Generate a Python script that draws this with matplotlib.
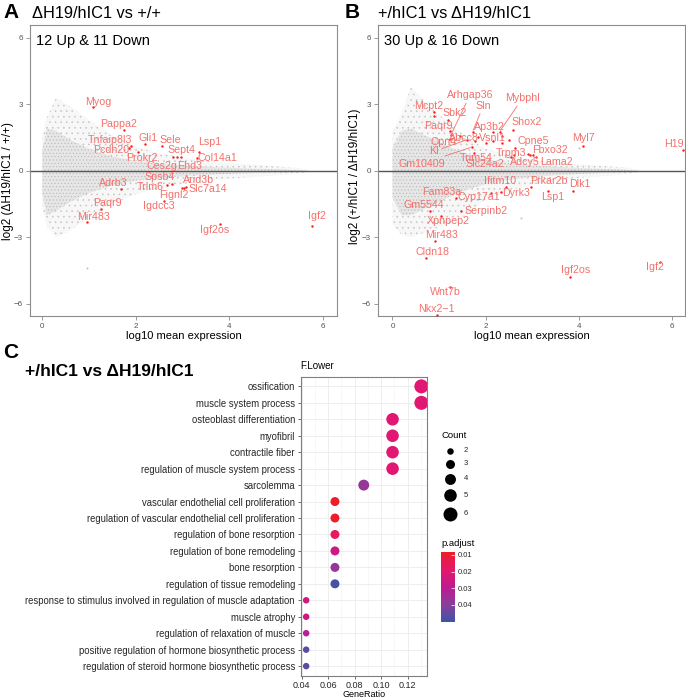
import matplotlib
matplotlib.use("Agg")
import matplotlib.pyplot as plt
import numpy as np
from matplotlib.colors import LinearSegmentedColormap, Normalize
from matplotlib.cm import ScalarMappable

plt.rcParams['font.family'] = ['Liberation Sans', 'DejaVu Sans']
plt.rcParams['hatch.linewidth'] = 0.4

# ---------------- panel A data (ΔH19/hIC1 vs +/+) ----------------
A_env_x = [0.0, 0.1, 0.3, 0.6, 1.0, 1.5, 2.0, 2.5, 3.0, 3.5, 4.0, 4.5, 5.0, 5.5, 5.7]
A_env_hi = [1.6, 2.4, 3.3, 2.9, 2.3, 1.6, 1.1, 0.8, 0.6, 0.45, 0.35, 0.28, 0.2, 0.12, 0.05]
A_env_lo = [-1.7, -2.5, -3.0, -2.7, -2.1, -1.5, -1.05, -0.8, -0.6, -0.45, -0.35, -0.28, -0.2, -0.12, -0.05]
A_core_hi = [0.9, 1.9, 1.8, 1.4, 1.0, 0.65, 0.45, 0.32, 0.24, 0.18, 0.14, 0.1, 0.07, 0.03, 0.0]
A_core_lo = [-1.0, -2.0, -1.8, -1.4, -1.0, -0.65, -0.45, -0.32, -0.24, -0.18, -0.14, -0.1, -0.07, -0.03, 0.0]
A_gray_x = [0.97]
A_gray_y = [-4.4]

A_genes = ['Myog', 'Pappa2', 'Tnfaip8l3', 'Pcdh20', 'Gli1', 'Sele', 'Lsp1', 'Sept4',
           'Col14a1', 'Prokr2', 'Ces2g', 'Ehd3', 'Spsb4', 'Trim6', 'Adrb3', 'Arid3b',
           'Slc7a14', 'Fignl2', 'Igdcc3', 'Paqr9', 'Mir483', 'Igf2os', 'Igf2']
A_x = [1.08, 1.75, 1.90, 1.86, 2.20, 2.56, 3.36, 2.88, 3.31, 2.06, 2.81, 2.97,
       2.77, 2.67, 1.68, 3.04, 3.08, 3.00, 2.61, 1.27, 0.96, 3.81, 5.77]
A_y = [2.87, 1.82, 1.13, 1.05, 1.20, 1.10, 0.87, 0.62, 0.60, 0.84, 0.62, 0.62,
       -0.59, -0.65, -0.83, -0.77, -0.71, -0.78, -1.38, -1.73, -2.33, -2.39, -2.48]
A_lx = [1.20, 1.63, 1.45, 1.47, 2.26, 2.75, 3.59, 2.99, 3.74, 2.14, 2.57, 3.16,
        2.52, 2.32, 1.52, 3.34, 3.54, 2.81, 2.49, 1.39, 1.09, 3.69, 5.89]
A_ly = [3.12, 2.12, 1.40, 0.95, 1.46, 1.40, 1.28, 0.92, 0.60, 0.57, 0.23, 0.23,
        -0.30, -0.75, -0.56, -0.41, -0.83, -1.08, -1.58, -1.46, -2.09, -2.69, -2.03]
A_seg = [0] * len(A_genes)

# ---------------- panel B data (+/hIC1 vs ΔH19/hIC1) ----------------
B_env_x = [0.0, 0.2, 0.4, 0.8, 1.2, 1.6, 2.0, 2.5, 3.0, 3.5, 4.0, 4.5, 5.0, 5.3]
B_env_hi = [1.8, 2.6, 3.8, 2.9, 2.2, 1.5, 1.0, 0.7, 0.5, 0.38, 0.3, 0.22, 0.15, 0.05]
B_env_lo = [-2.4, -2.9, -3.0, -2.7, -2.4, -2.0, -1.3, -0.9, -0.62, -0.45, -0.32, -0.25, -0.15, -0.05]
B_core_hi = [1.0, 1.8, 1.9, 1.5, 1.1, 0.75, 0.5, 0.35, 0.25, 0.18, 0.13, 0.09, 0.05, 0.0]
B_core_lo = [-1.2, -2.0, -2.0, -1.6, -1.2, -0.85, -0.6, -0.4, -0.28, -0.2, -0.14, -0.1, -0.05, 0.0]
B_gray_x = [2.77, 4.0]
B_gray_y = [-2.13, 1.05]

B_genes = ['Mcpt2', 'Sbk2', 'Arhgap36', 'Sln', 'Paqr9', 'Mybphl', 'Ap3b2', 'Shox2',
           'Abcc8', 'Vsnl1', 'Opn4', 'Cpne5', 'Myl7', 'H19', 'Kl', 'Fbxo32', 'Trpm3',
           'Trim54', 'Gm10409', 'Slc24a2', 'Adcy5', 'Lama2',
           'Ifitm10', 'Prkar2b', 'Dlk1', 'Fam83a', 'Cyp17a1', 'Dyrk3', 'Lsp1',
           'Gm5544', 'Serpinb2', 'Xpnpep2', 'Mir483', 'Cldn18', 'Igf2os', 'Igf2',
           'Wnt7b', 'Nkx2\u22121']
B_x = [0.895, 1.20, 1.25, 1.72, 1.23, 2.30, 2.16, 2.59, 1.84, 2.35, 1.24, 2.63,
       4.08, 6.24, 1.59, 3.08, 2.90, 1.76, 1.70, 2.55, 2.62, 2.95,
       2.43, 2.98, 3.88, 1.37, 2.12, 2.33, 3.34, 0.80, 1.48, 1.05, 0.92, 0.73,
       3.81, 5.74, 1.24, 0.95]
B_y = [2.64, 2.30, 1.60, 1.77, 1.78, 1.77, 1.73, 1.82, 1.52, 1.55, 1.43, 1.05,
       1.10, 0.95, 1.40, 0.64, 0.75, 0.80, 1.07, 0.64, 0.70, 0.72,
       -0.73, -0.73, -0.89, -1.23, -0.98, -0.96, -0.93, -1.83, -1.83, -2.02,
       -3.17, -3.95, -4.80, -4.10, -5.24, -6.52]
B_lx = [0.77, 1.33, 1.66, 1.95, 0.98, 2.79, 2.09, 2.88, 1.54, 2.14, 1.09, 3.02,
        4.11, 6.04, 0.90, 3.38, 2.55, 1.80, 0.63, 1.99, 2.85, 3.52,
        2.31, 3.36, 4.02, 1.05, 1.86, 2.66, 3.45, 0.67, 2.00, 1.20, 1.06, 0.87,
        3.93, 5.63, 1.13, 0.94]
B_ly = [2.93, 2.60, 3.40, 2.93, 2.02, 3.27, 2.00, 2.20, 1.46, 1.46, 1.30, 1.35,
        1.50, 1.20, 0.88, 0.95, 0.82, 0.60, 0.32, 0.29, 0.38, 0.42,
        -0.44, -0.45, -0.60, -0.95, -1.19, -0.98, -1.17, -1.55, -1.80, -2.27,
        -2.88, -3.67, -4.48, -4.35, -5.48, -6.23]
B_seg = [0, 0, 1, 1, 0, 1, 0, 0, 0, 0, 0, 0, 0, 0, 1, 0, 0, 0, 1, 1, 0, 0,
         0, 0, 0, 0, 0, 0, 0, 0, 0, 0, 0, 0, 0, 0, 0, 0]
# significant but unlabeled points
B_extra_x = [0.895, 2.50, 1.45, 2.00, 2.16, 2.35, 1.77, 3.02]
B_extra_y = [2.49, 1.40, 1.55, 1.25, 1.35, 1.25, 1.35, 0.72]

# ---------------- panel C data (GO enrichment dotplot) ----------------
go_terms = ['ossification', 'muscle system process', 'osteoblast differentiation',
            'myofibril', 'contractile fiber', 'regulation of muscle system process',
            'sarcolemma', 'vascular endothelial cell proliferation',
            'regulation of vascular endothelial cell proliferation',
            'regulation of bone resorption', 'regulation of bone remodeling',
            'bone resorption', 'regulation of tissue remodeling',
            'response to stimulus involved in regulation of muscle adaptation',
            'muscle atrophy', 'regulation of relaxation of muscle',
            'positive regulation of hormone biosynthetic process',
            'regulation of steroid hormone biosynthetic process']
go_count = [6, 6, 5, 5, 5, 5, 4, 3, 3, 3, 3, 3, 3, 2, 2, 2, 2, 2]
go_padj = [0.020, 0.020, 0.020, 0.020, 0.020, 0.020, 0.038, 0.009, 0.009, 0.017,
           0.026, 0.038, 0.049, 0.025, 0.025, 0.031, 0.046, 0.046]
n_genes = 46
count_levels = [2, 3, 4, 5, 6]
padj_ticks = [0.01, 0.02, 0.03, 0.04]

W, H = 686, 699
fig = plt.figure(figsize=(W / 100, H / 100), dpi=100)


def px_axes(l, t, r, b):
    return fig.add_axes([l / W, 1 - b / H, (r - l) / W, (b - t) / H])


def ftext(x, y, s, **kw):
    fig.text(x / W, 1 - y / H, s, **kw)


lab_col = '#F4716C'


def ma_panel(ax, ex, ehi, elo, chi, clo, gxs, gys, genes, gx, gy, lx, ly, seg,
             xx=None, xy=None, xlim=(-0.3, 6.3), note=''):
    # point cloud drawn as a speckled band (outer sparse, inner dense)
    ax.fill_between(ex, elo, ehi, facecolor='#F7F7F7', edgecolor='#C4C4C4',
                    hatch='...', lw=0, zorder=1)
    ax.fill_between(ex, clo, chi, facecolor='#E6E6E6', edgecolor='#B8B8B8',
                    hatch='.....', lw=0, zorder=1)
    ax.scatter(gxs, gys, s=2, color='#C0C0C0', lw=0, zorder=1)
    ax.axhline(0, color='#555555', lw=1.0, zorder=2)
    ax.scatter(gx, gy, s=3, color='#FF1A1A', lw=0, zorder=4)
    if xx is not None:
        ax.scatter(xx, xy, s=3, color='#FF1A1A', lw=0, zorder=4)
    for g, px_, py_, tx, ty, sg in zip(genes, gx, gy, lx, ly, seg):
        if sg:
            ax.annotate(g, xy=(px_, py_), xytext=(tx, ty), ha='center', va='center',
                        fontsize=7.7, color=lab_col, zorder=5,
                        arrowprops=dict(arrowstyle='-', color=lab_col, lw=0.6,
                                        shrinkA=0, shrinkB=1))
        else:
            ax.text(tx, ty, g, ha='center', va='center', fontsize=7.7,
                    color=lab_col, zorder=5)
    ax.set_xlim(*xlim)
    ax.set_ylim(-6.55, 6.58)
    ax.set_xticks([0, 2, 4, 6])
    ax.set_yticks([-6, -3, 0, 3, 6])
    ax.set_yticklabels(['\u22126', '\u22123', '0', '3', '6'])
    for s in ax.spines.values():
        s.set_color('#8C8C8C')
        s.set_linewidth(0.8)
    ax.tick_params(length=3, width=0.6, color='#8C8C8C', labelcolor='#555555',
                   labelsize=5.8, pad=2)
    ax.set_xlabel('log10 mean expression', fontsize=8, labelpad=1)
    ax.text(0.02, 0.97, note, transform=ax.transAxes, ha='left', va='top',
            fontsize=10.5)


axA = px_axes(30, 25, 337, 316)
ma_panel(axA, A_env_x, A_env_hi, A_env_lo, A_core_hi, A_core_lo, A_gray_x, A_gray_y,
         A_genes, A_x, A_y, A_lx, A_ly, A_seg, xlim=(-0.26, 6.31),
         note='12 Up & 11 Down')
ftext(8.5, 181, 'log2 (\u0394H19/hIC1 / +/+)', fontsize=8.5, rotation=90,
      ha='center', va='center')

axB = px_axes(378, 25, 685, 316)
ma_panel(axB, B_env_x, B_env_hi, B_env_lo, B_core_hi, B_core_lo, B_gray_x, B_gray_y,
         B_genes, B_x, B_y, B_lx, B_ly, B_seg, B_extra_x, B_extra_y,
         xlim=(-0.31, 6.28), note='30 Up & 16 Down')
ftext(355.5, 176, 'log2 (+/hIC1 / \u0394H19/hIC1)', fontsize=8.5, rotation=90,
      ha='center', va='center')

ftext(3, 13, 'A', fontsize=15, fontweight='bold', va='center')
ftext(32, 13, '\u0394H19/hIC1 vs +/+', fontsize=11.8, va='center')
ftext(345, 13, 'B', fontsize=15, fontweight='bold', va='center')
ftext(378, 13, '+/hIC1 vs \u0394H19/hIC1', fontsize=11.8, va='center')

# ---------------- panel C ----------------
cmap = LinearSegmentedColormap.from_list(
    'padj', ['#EE1D26', '#E4186E', '#C0198F', '#8A3E9A', '#3A55A6'])
norm = Normalize(0.0082, 0.0505)


def dot_diam(c):
    return np.sqrt(6.5 ** 2 + (c - 2) / 4 * (14.0 ** 2 - 6.5 ** 2))  # px


def dot_size(c):
    return (dot_diam(c) * 0.72) ** 2


axC = px_axes(300.5, 376.5, 427, 676)
rows = np.arange(len(go_terms))
ratio = np.array(go_count) / n_genes
axC.scatter(ratio, rows, s=[dot_size(c) for c in go_count], c=go_padj, cmap=cmap,
            norm=norm, lw=0, zorder=3)
axC.set_xlim(0.0392, 0.1347)
axC.set_ylim(len(go_terms) - 0.4, -0.6)
axC.set_yticks(rows)
axC.set_yticklabels(go_terms)
axC.set_xticks([0.04, 0.06, 0.08, 0.10, 0.12])
axC.set_xticklabels(['0.04', '0.06', '0.08', '0.10', '0.12'])
axC.set_xticks([0.05, 0.07, 0.09, 0.11, 0.13], minor=True)
axC.grid(True, which='major', color='#EBEBEB', lw=0.6, zorder=0)
axC.grid(True, which='minor', axis='x', color='#F2F2F2', lw=0.4, zorder=0)
axC.set_axisbelow(True)
for s in axC.spines.values():
    s.set_color('#7F7F7F')
    s.set_linewidth(0.8)
axC.tick_params(which='major', length=2.5, width=0.6, color='#555555',
                labelcolor='#262626', labelsize=6.85, pad=1.5)
axC.tick_params(axis='x', which='major', labelsize=6.5, pad=1)
axC.tick_params(which='minor', length=0)
axC.set_xlabel('GeneRatio', fontsize=6.5, labelpad=0)

ftext(3, 352, 'C', fontsize=15, fontweight='bold', va='center')
ftext(25, 372, '+/hIC1 vs \u0394H19/hIC1', fontsize=12.5, fontweight='bold', va='center')
ftext(300, 366, 'F.Lower', fontsize=7, va='center')

# Count legend
ftext(441, 435, 'Count', fontsize=6.8, va='center')
legax = px_axes(436, 440, 490, 525)
legax.set_xlim(436, 490)
legax.set_ylim(525, 440)
legax.axis('off')
ky = 451.0
prev_d = None
for c in count_levels:
    d = dot_diam(c)
    if prev_d is not None:
        ky += (prev_d + d) / 2 + 5
    legax.scatter([450], [ky], s=dot_size(c), color='black', lw=0)
    legax.text(464, ky, str(c), fontsize=5.5, va='center', ha='left', color='#262626')
    prev_d = d

# p.adjust colorbar
ftext(441, 543, 'p.adjust', fontsize=6.8, va='center')
cax = px_axes(441, 552, 455, 622)
cb = fig.colorbar(ScalarMappable(norm=norm, cmap=cmap), cax=cax)
cb.outline.set_visible(False)
cax.invert_yaxis()
cb.set_ticks(padj_ticks)
cb.set_ticklabels(['0.01', '0.02', '0.03', '0.04'])
cax.tick_params(length=3, width=0.5, color='white', direction='in',
                labelsize=5.5, labelcolor='#262626', pad=2)

fig.savefig('out.png', dpi=100)
